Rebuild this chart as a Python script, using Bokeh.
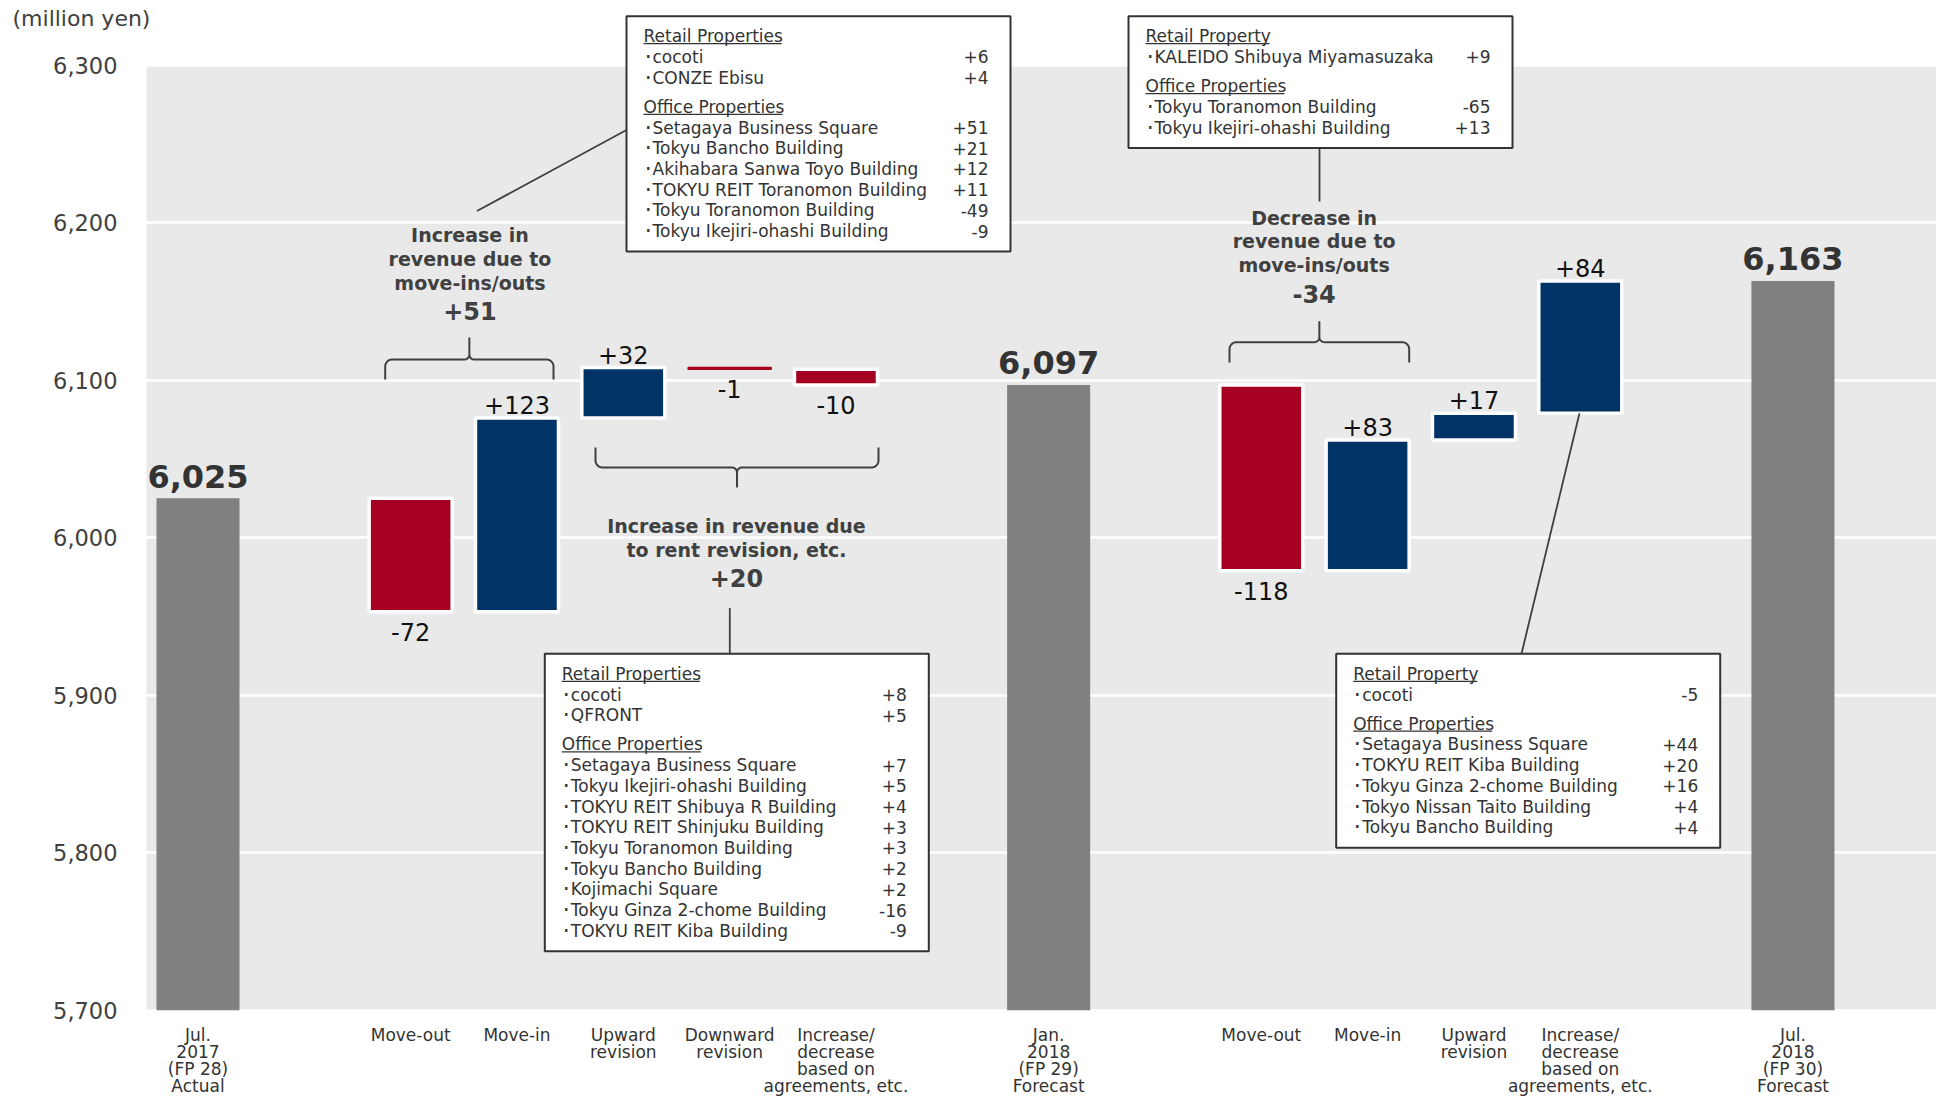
import numpy as np
from bokeh.plotting import figure
from bokeh.models import (ColumnDataSource, Range1d, FixedTicker, NumeralTickFormatter,
                          BoxAnnotation, Label)
from bokeh.core.properties import value
from bokeh.embed import file_html
from bokeh.resources import INLINE

# ---------------- data ----------------
categories = [
    "Jul.\n2017\n(FP 28)\nActual", "", "Move-out", "Move-in", "Upward\nrevision",
    "Downward\nrevision", "Increase/\ndecrease\nbased on\nagreements, etc.", "",
    "Jan.\n2018\n(FP 29)\nForecast", "", "Move-out", "Move-in", "Upward\nrevision",
    "Increase/\ndecrease\nbased on\nagreements, etc.", "", "Jul.\n2018\n(FP 30)\nForecast",
]
kinds = ["total", None, "delta", "delta", "delta", "delta", "delta", None,
         "total", None, "delta", "delta", "delta", "delta", None, "total"]
amounts = [6025, None, -72, 123, 32, -1, -10, None, 6097, None, -118, 83, 17, 84, None, 6163]
y_ticks = [5700, 5800, 5900, 6000, 6100, 6200, 6300]
unit_label = "(million yen)"

group1_title = ["Increase in", "revenue due to", "move-ins/outs"]
group1_value = "+51"
group2_title = ["Increase in revenue due", "to rent revision, etc."]
group2_value = "+20"
group3_title = ["Decrease in", "revenue due to", "move-ins/outs"]
group3_value = "-34"

box1_rows = [("Retail Properties", None), ("･cocoti", 6), ("･CONZE Ebisu", 4),
             ("Office Properties", None), ("･Setagaya Business Square", 51),
             ("･Tokyu Bancho Building", 21), ("･Akihabara Sanwa Toyo Building", 12),
             ("･TOKYU REIT Toranomon Building", 11), ("･Tokyu Toranomon Building", -49),
             ("･Tokyu Ikejiri-ohashi Building", -9)]
box2_rows = [("Retail Property", None), ("･KALEIDO Shibuya Miyamasuzaka", 9),
             ("Office Properties", None), ("･Tokyu Toranomon Building", -65),
             ("･Tokyu Ikejiri-ohashi Building", 13)]
box3_rows = [("Retail Properties", None), ("･cocoti", 8), ("･QFRONT", 5),
             ("Office Properties", None), ("･Setagaya Business Square", 7),
             ("･Tokyu Ikejiri-ohashi Building", 5), ("･TOKYU REIT Shibuya R Building", 4),
             ("･TOKYU REIT Shinjuku Building", 3), ("･Tokyu Toranomon Building", 3),
             ("･Tokyu Bancho Building", 2), ("･Kojimachi Square", 2),
             ("･Tokyu Ginza 2-chome Building", -16), ("･TOKYU REIT Kiba Building", -9)]
box4_rows = [("Retail Property", None), ("･cocoti", -5),
             ("Office Properties", None), ("･Setagaya Business Square", 44),
             ("･TOKYU REIT Kiba Building", 20), ("･Tokyu Ginza 2-chome Building", 16),
             ("･Tokyo Nissan Taito Building", 4), ("･Tokyu Bancho Building", 4)]

# ---------------- layout helpers (canvas pixels -> data) ----------------
FONT = value("DejaVu Sans")
SLOT = 106.33
PX_PER_UNIT = 1.575
X0_PX = 197.5          # canvas x of slot 0
Y_TOP_PX = 64.7        # canvas y of 6300
PLOT_LEFT_PX = 146     # left edge of the shaded plotting area


def dx(px):
    return (px - X0_PX) / SLOT


def dy(py):
    return 6300 - (py - Y_TOP_PX) / PX_PER_UNIT


W, H = 1936, 1096
p = figure(width=W, height=H,
           x_range=Range1d(dx(0), dx(W)), y_range=Range1d(dy(H), dy(0)),
           output_backend="svg", toolbar_location=None,
           min_border_left=0, min_border_right=0, min_border_top=0, min_border_bottom=0,
           background_fill_color="white", border_fill_color="white", outline_line_color=None)

p.add_layout(BoxAnnotation(left=dx(PLOT_LEFT_PX), bottom=y_ticks[0], top=y_ticks[-1],
                           fill_color="#E9E9E9", fill_alpha=1, line_color=None, level="image"))
p.xgrid.visible = False
p.ygrid.ticker = FixedTicker(ticks=y_ticks)
p.ygrid.grid_line_color = "white"
p.ygrid.grid_line_width = 2.5

# axes (drawn at fixed locations inside the canvas)
p.yaxis.fixed_location = dx(PLOT_LEFT_PX)
p.yaxis.ticker = FixedTicker(ticks=y_ticks)
p.yaxis.formatter = NumeralTickFormatter(format="0,0")
p.yaxis.axis_line_color = None
p.yaxis.major_tick_line_color = None
p.yaxis.minor_tick_line_color = None
p.yaxis.major_tick_out = 0
p.yaxis.major_tick_in = 0
p.yaxis.major_label_standoff = 29
p.yaxis.major_label_text_font = "DejaVu Sans"
p.yaxis.major_label_text_font_size = "22.5px"
p.yaxis.major_label_text_color = "#404040"

p.xaxis.fixed_location = y_ticks[0]
p.xaxis.ticker = FixedTicker(ticks=[i for i, c in enumerate(categories) if c])
p.xaxis.major_label_overrides = {i: c for i, c in enumerate(categories) if c}
p.xaxis.axis_line_color = None
p.xaxis.major_tick_line_color = None
p.xaxis.minor_tick_line_color = None
p.xaxis.major_tick_out = 0
p.xaxis.major_tick_in = 0
p.xaxis.major_label_standoff = 15
p.xaxis.major_label_text_font = "DejaVu Sans"
p.xaxis.major_label_text_font_size = "17px"
p.xaxis.major_label_text_color = "#333333"
p.xaxis.major_label_text_line_height = 0.84

# ---------------- waterfall bars ----------------
GRAY, RED, NAVY = "#808080", "#A50021", "#003366"
xs, tops, bottoms, fills, lcols, lws, lalphas = [], [], [], [], [], [], []
tot_x, tot_y, tot_t = [], [], []
dl_x, dl_y, dl_t, dl_off = [], [], [], []
level = None
for i, (k, a) in enumerate(zip(kinds, amounts)):
    if k == "total":
        b, t, level = y_ticks[0], a, a
        fill = GRAY
        xs.append(i); bottoms.append(b); tops.append(t); fills.append(fill)
        lcols.append(fill); lws.append(0); lalphas.append(0)
        tot_x.append(i); tot_y.append(t); tot_t.append(f"{a:,}")
    elif k == "delta":
        b, t = level, level + a
        level = t
        fill = NAVY if a > 0 else RED
        xs.append(i); bottoms.append(min(b, t)); tops.append(max(b, t)); fills.append(fill)
        tiny = abs(a) <= 1
        lcols.append(fill if tiny else "white"); lws.append(1.5 if tiny else 3.5); lalphas.append(1)
        dl_x.append(i)
        dl_t.append(f"{a:+d}")
        if a > 0:
            dl_y.append(max(b, t)); dl_off.append(-13)
        else:
            dl_y.append(min(b, t)); dl_off.append(20)

bars = ColumnDataSource(dict(x=xs, top=tops, bottom=bottoms, fill=fills, lc=lcols,
                             lw=lws, la=lalphas))
p.vbar(x="x", top="top", bottom="bottom", width=0.781, source=bars, fill_color="fill",
       line_color="lc", line_width="lw", line_alpha="la")

p.text(x=tot_x, y=tot_y, text=tot_t, y_offset=-22, text_align="center",
       text_baseline="middle", text_font=FONT, text_font_size="32px",
       text_font_style="bold", text_color="#333333")
p.text(x=dl_x, y=dl_y, text=dl_t, y_offset=dl_off, text_align="center",
       text_baseline="middle", text_font=FONT, text_font_size="24px", text_color="#111111")

# ---------------- braces ----------------
LINE = "#404040"


def brace_path(xl, xr, y_tip, y_bar, y_point, r_end=7.0, r_mid=5.0, n=10):
    xc = 0.5 * (xl + xr)
    d = np.sign(y_tip - y_bar)
    th = np.linspace(0, np.pi / 2, n)
    px, py = [xl], [y_tip]
    cx, cy = xl + r_end, y_bar + d * r_end
    px += list(cx - r_end * np.cos(th)); py += list(cy - d * r_end * np.sin(th))
    cx, cy = xc - r_mid, y_bar - d * r_mid
    px += list(cx + r_mid * np.sin(th)); py += list(cy + d * r_mid * np.cos(th))
    px.append(xc); py.append(y_point)
    lx, ly = np.array(px), np.array(py)
    fx = np.concatenate([lx, (2 * xc - lx)[::-1]])
    fy = np.concatenate([ly, ly[::-1]])
    return [dx(v) for v in fx], [dy(v) for v in fy]


for (xl, xr, yt, yb, yp) in [(384.7, 553.0, 379, 359, 337),
                             (595.0, 878.0, 447, 467, 487),
                             (1229.0, 1408.7, 362, 341.7, 320.7)]:
    bx, by = brace_path(xl, xr, yt, yb, yp)
    p.line(bx, by, line_color=LINE, line_width=2)

# ---------------- group titles ----------------
for (lines, num, cx, y0, ynum) in [(group1_title, group1_value, 469.5, 234.6, 310),
                                   (group2_title, group2_value, 736.0, 525.4, 577.7),
                                   (group3_title, group3_value, 1313.6, 217.0, 293)]:
    ys = [dy(y0 + 23.9 * j) for j in range(len(lines))]
    p.text(x=[dx(cx)] * len(lines), y=ys, text=lines, text_align="center",
           text_baseline="middle", text_font=FONT, text_font_size="19px",
           text_font_style="bold", text_color="#404040")
    p.text(x=[dx(cx)], y=[dy(ynum)], text=[num], text_align="center",
           text_baseline="middle", text_font=FONT, text_font_size="24px",
           text_font_style="bold", text_color="#404040")

# ---------------- leader lines ----------------
for (x1, y1, x2, y2) in [(626, 129.5, 476.5, 210.5), (1319, 146.7, 1319, 201),
                         (729.3, 653.3, 729.3, 607.6), (1521, 653.3, 1579, 412.8)]:
    p.line([dx(x1), dx(x2)], [dy(y1), dy(y2)], line_color=LINE, line_width=1.8)

# ---------------- detail boxes ----------------
BOX_W, PAD_L, PAD_R, TOP_PAD, BOT_PAD, LINE_H, GAP = 384, 17, 22, 20, 20.5, 20.7, 8.5
UNDERLINE = {"Retail Properties": 138, "Office Properties": 139, "Retail Property": 124}

for left, top, rows in [(626, 15.7, box1_rows), (1128, 15.7, box2_rows),
                        (544.3, 653.3, box3_rows), (1335.7, 653.3, box4_rows)]:
    ys, y = [], top + TOP_PAD
    for j, (name, val) in enumerate(rows):
        if j > 0 and val is None:
            y += GAP
        ys.append(y)
        y += LINE_H
    bottom = ys[-1] + BOT_PAD
    p.quad(left=[dx(left)], right=[dx(left + BOX_W)], top=[dy(top)], bottom=[dy(bottom)],
           fill_color="white", line_color="#333333", line_width=2)
    names = [r[0] for r in rows]
    p.text(x=[dx(left + PAD_L)] * len(rows), y=[dy(v) for v in ys], text=names,
           text_align="left", text_baseline="middle", text_font=FONT,
           text_font_size="17px", text_color="#333333")
    vals = [(f"{r[1]:+d}", yy) for r, yy in zip(rows, ys) if r[1] is not None]
    p.text(x=[dx(left + BOX_W - PAD_R)] * len(vals), y=[dy(v[1]) for v in vals],
           text=[v[0] for v in vals], text_align="right", text_baseline="middle",
           text_font=FONT, text_font_size="17px", text_color="#333333")
    heads = [(r[0], yy) for r, yy in zip(rows, ys) if r[1] is None]
    p.segment(x0=[dx(left + PAD_L)] * len(heads),
              x1=[dx(left + PAD_L + UNDERLINE[h[0]]) for h in heads],
              y0=[dy(h[1] + 7.5) for h in heads], y1=[dy(h[1] + 7.5) for h in heads],
              line_color="#333333", line_width=1.2)

p.add_layout(Label(x=dx(12), y=dy(18), text=unit_label, text_align="left",
                   text_baseline="middle", text_font="DejaVu Sans", text_font_size="22px",
                   text_color="#404040"))

open("out.html", "w").write(file_html(p, INLINE))
